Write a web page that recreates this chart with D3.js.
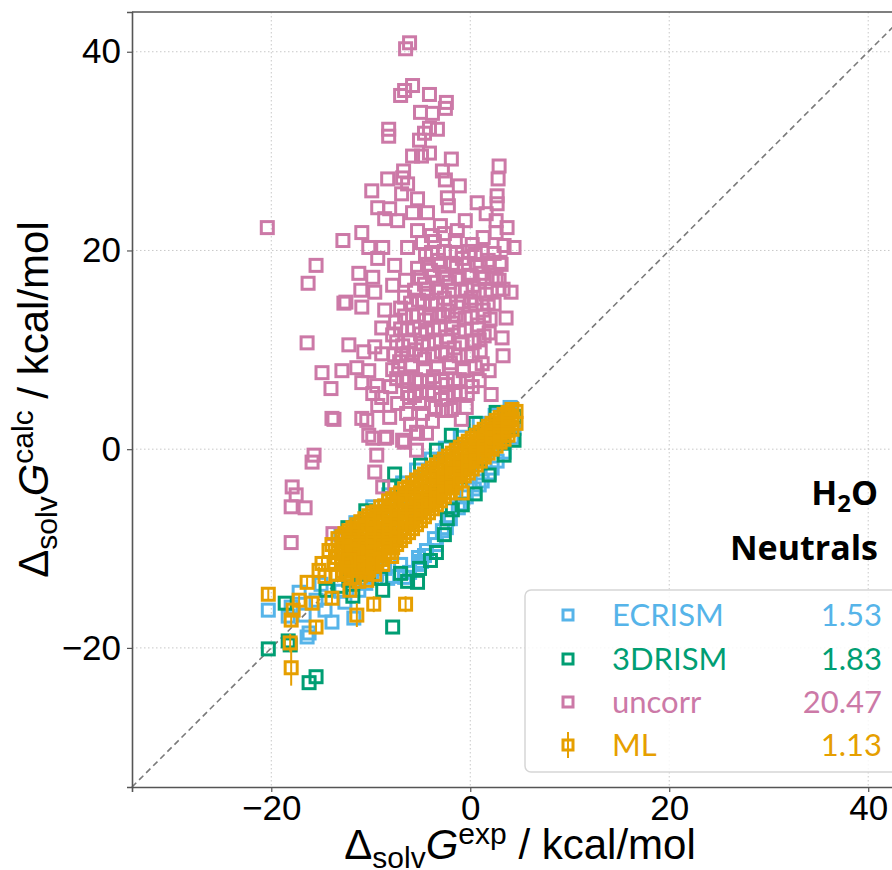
<!DOCTYPE html>
<html>
<head>
<meta charset="utf-8">
<script src="https://cdn.jsdelivr.net/npm/d3@7"></script>
<style>
  html, body { margin: 0; padding: 0; background: #fff; }
  svg { display: block; }
</style>
</head>
<body>
<svg id="chart" width="892" height="870"></svg>
<script>
// Solvation free energies in water (neutral solutes), kcal/mol: [experimental, calculated]
const ecrism = [
  [-20.3,-16.2],[-18.0,-15.9],[-18.3,-16.8],[-16.2,-18.5],[-16.4,-18.9],[-13.9,-17.4],[-15.5,-15.2],
  [-16.7,-16.7],[-12.2,-12.7],[-11.2,-14.2],[-11.7,-17.0],[-10.5,-13.5],[-17.2,-14.4],[-15.0,-13.6],
  [-13.0,-14.3],[-9.4,-12.6],[-8.6,-12.0],[-7.8,-12.8],[-7.0,-11.6],[-6.1,-12.4],[-5.2,-10.9],
  [-4.4,-10.2],[-3.6,-9.0],[-2.8,-8.2],[-2.0,-7.0],[-1.2,-5.9],[-0.4,-4.8],[0.4,-4.0],[1.2,-3.2],
  [1.9,-2.4],[2.7,-1.2],[3.4,-0.3],[4.2,1.2],[4.4,2.1],[-13.0,-8.6],[-11.5,-7.4],[-9.8,-5.8],
  [-8.2,-4.6],[-6.8,-3.4],[-5.4,-2.1],[-3.9,-1.0],[-2.5,0.1],[-1.0,1.2],[0.9,2.6],[2.5,3.4],
  [4.0,4.2],[-12.0,-10.5],[-10.5,-9.2],[-9.0,-8.4],[-7.5,-7.3],[-6.0,-6.0],[-4.5,-5.1],[-3.0,-3.8],
  [-1.5,-2.6],[0.0,-1.4],[1.5,-0.2],[3.0,1.3],[-5.1,-11.6],[-4.6,-10.7],[-3.4,-9.6],
  [-6.6,-12.9],[-4.9,-11.3],[-2.4,-7.9],[-0.9,-5.5],[0.9,-3.6],[2.2,-1.9],[-9.9,-12.9],
  [-8.3,-13.0],[-14.6,-16.2],[-12.6,-15.4]
];
const drism = [
  [-20.3,-20.1],[-18.1,-19.7],[-18.3,-19.3],[-16.2,-23.5],[-15.5,-22.9],[-7.8,-17.9],[-12.2,-13.2],
  [-8.8,-14.2],[-18.6,-15.5],[-14.5,-14.2],[-10.4,-12.6],[-9.0,-13.0],[-7.0,-12.5],[-6.3,-13.3],
  [-5.1,-12.0],[-5.3,-13.4],[-3.4,-10.4],[-2.3,-7.0],[-1.8,-6.1],[-0.8,-5.6],[0.5,-4.5],[1.9,-2.6],
  [3.4,-0.6],[4.4,0.9],[-7.6,-2.5],[-8.1,-3.8],[-3.4,-0.1],[-1.9,1.4],[-5.0,-1.6],[-10.5,-6.2],
  [-12.3,-7.9],[0.5,2.6],[2.6,3.7],[4.5,3.3],[-11.0,-10.0],[-9.0,-9.0],[-7.0,-7.5],[-5.0,-6.0],
  [-3.0,-4.5],[-1.0,-2.8],[1.0,-1.0],[3.0,1.0],[-2.6,-8.6],[-4.0,-11.2],[-11.8,-14.8],[-13.1,-13.8]
];
const uncorr = [
  [-6.1,40.9],[-6.5,40.3],[-5.8,36.6],[-7.0,35.6],[-6.6,36.1],[-4.1,35.7],[-2.4,34.9],[-2.5,34.3],
  [-5.0,33.9],[-3.8,33.8],[-8.2,32.2],[-8.2,31.5],[-4.1,32.3],[-3.3,32.2],[-4.6,31.8],[-5.1,31.1],
  [-5.8,29.5],[-4.1,29.8],[-4.9,29.5],[-1.9,29.2],[2.9,28.5],[-6.7,28.0],[-2.8,28.0],
  [-8.3,27.2],[-6.8,27.3],[-6.3,26.7],[-2.5,27.1],[2.8,27.2],[-9.9,26.0],[-6.9,25.7],[-5.3,25.2],
  [-2.3,25.3],[2.7,25.5],[-9.3,24.3],[-8.1,24.2],[-5.8,23.8],[-4.3,23.8],[-2.2,24.5],[2.7,24.7],
  [1.6,23.7],[-8.6,23.2],[-7.3,23.0],[2.6,23.0],[-20.4,22.3],[-10.9,21.8],[-5.3,22.0],[-3.9,21.5],
  [-2.6,21.7],[-1.3,22.0],[2.6,21.8],[-12.8,21.0],[-10.2,20.3],[-8.8,20.3],[-6.3,20.3],[3.4,20.5],
  [4.4,20.3],[-15.5,18.5],[-16.3,16.7],[-9.3,19.2],[-7.6,18.5],[-11.2,17.7],[-9.8,17.3],[-5.3,18.2],
  [-12.5,14.8],[-11.0,16.0],[-9.6,15.8],[-7.8,16.5],[-6.6,15.3],[4.1,15.8],[2.9,17.0],[1.2,17.7],
  [-12.7,14.7],[-10.9,14.3],[-8.6,14.0],[-8.9,12.2],[-7.8,11.5],[-16.4,10.7],[-12.2,10.5],[-9.6,10.3],
  [-10.7,9.8],[-8.9,9.6],[3.2,11.2],[1.9,11.7],[0.9,11.0],[-14.9,7.7],[-12.9,7.9],[-11.4,8.2],
  [-10.2,7.9],[-14.0,6.1],[-10.9,6.7],[-9.4,6.4],[-9.8,5.6],[-8.9,5.2],[-7.4,7.1],[-6.1,5.2],
  [1.9,7.9],[1.2,8.6],[0.9,6.9],[-0.3,5.6],[-0.4,4.2],[-13.9,3.1],[-10.9,3.1],[-8.1,3.2],[-6.4,3.6],
  [-5.1,4.6],[-2.4,3.9],[-10.2,1.4],[-8.4,1.2],[-6.8,0.9],[-5.4,1.7],[-4.4,1.6],[-9.3,4.4],
  [-13.7,3.0],[-10.4,2.9],[-4.8,3.6],[-2.8,3.9],[-9.8,1.1],[-8.6,1.1],[-6.6,0.7],[-5.3,1.6],
  [-5.4,-0.1],[-15.7,-0.6],[-15.9,-1.3],[-9.4,-0.6],[-9.6,-2.3],[-8.8,-3.8],[-17.9,-3.8],[-17.5,-4.6],
  [-18.0,-5.8],[-16.6,-5.9],[-18.0,-9.4],[-13.8,-8.5],
  [-4.5,19.5],[-3.2,19.0],[-2.0,19.8],[-0.8,19.2],[0.5,19.6],[1.8,19.0],[-4.0,18.0],[-2.7,17.6],
  [-1.4,18.3],[-0.2,17.5],[1.0,18.4],[2.2,17.2],[-4.6,16.6],[-3.4,16.2],[-2.1,16.8],[-0.9,15.9],
  [0.3,16.5],[1.6,15.6],[2.8,16.1],[-5.2,15.0],[-3.9,14.6],[-2.6,15.2],[-1.3,14.3],[0.0,14.9],
  [1.3,14.0],[2.4,14.6],[-5.8,13.4],[-4.5,13.0],[-3.1,13.6],[-1.8,12.7],[-0.5,13.2],[0.8,12.5],
  [2.0,13.1],[-6.3,12.0],[-5.0,11.6],[-3.7,12.2],[-2.4,11.3],[-1.1,11.8],[0.2,10.9],[1.4,11.4],
  [-6.8,10.4],[-5.5,10.0],[-4.2,10.6],[-2.9,9.8],[-1.6,10.2],[-0.3,9.4],[1.0,9.9],[-7.1,8.8],
  [-5.9,8.5],[-4.6,9.1],[-3.3,8.2],[-2.0,8.7],[-0.7,7.9],[0.5,8.3],[-6.4,7.2],[-5.0,6.8],[-3.7,7.3],
  [-2.4,6.5],[-1.1,7.0],[0.2,6.3],[-5.6,5.4],[-4.2,5.8],[-2.9,5.0],[-1.6,5.5],[-3.5,4.2],[-1.9,4.0],
  [-4.8,20.8],[-3.6,20.9],[-1.5,21.0],[0.2,20.6],[1.3,21.3],[-6.5,17.0],[-7.0,14.2],[-7.5,12.8],
  [-6.9,9.5],[-7.8,8.0],[-8.0,6.3],[-7.3,4.6],[-6.0,2.5],[-3.8,2.8],[-0.9,3.0],[2.1,5.5],[3.3,9.4],
  [3.6,13.2],[3.0,18.8],[3.7,22.3],[-0.5,23.0],[-3.0,22.5],[0.7,24.8],[-1.1,26.5],[0.1,15.2],
  [-2.2,13.9],[-4.3,15.7],
  [-3.9,19.8],[-2.6,19.9],[-1.4,19.7],[-0.1,19.9],[1.2,19.8],[2.4,19.7],
  [-4.3,18.6],[-3.0,18.5],[-1.8,18.7],[-0.6,18.6],[0.7,18.5],[1.9,18.7],[3.1,18.6],
  [-5.0,17.3],[-3.7,17.4],[-2.4,17.2],[-1.2,17.3],[0.1,17.4],[1.4,17.3],[2.6,17.2],
  [-5.6,16.0],[-4.3,16.1],[-3.0,15.9],[-1.7,16.0],[-0.4,16.1],[0.9,15.9],[2.1,16.0],[3.3,16.1],
  [-6.0,14.7],[-4.7,14.8],[-3.4,14.6],[-2.1,14.7],[-0.8,14.8],[0.5,14.6],[1.8,14.7],
  [-6.6,13.4],[-5.3,13.5],[-4.0,13.3],[-2.7,13.4],[-1.4,13.5],[0.1,13.3],[1.4,13.4],
  [-7.0,12.1],[-5.7,12.2],[-4.4,12.0],[-3.1,12.1],[-1.8,12.2],[-0.5,12.0],[0.8,12.1],
  [-7.4,10.8],[-6.1,10.9],[-4.8,10.7],[-3.5,10.8],[-2.2,10.9],[-0.9,10.7],[0.4,10.8],
  [-7.6,9.5],[-6.3,9.6],[-5.0,9.4],[-3.7,9.5],[-2.4,9.6],[-1.1,9.4],[0.2,9.5],
  [-7.2,8.2],[-5.9,8.3],[-4.6,8.1],[-3.3,8.2],[-2.0,8.3],[-0.7,8.1],
  [-6.8,6.9],[-5.5,7.0],[-4.2,6.8],[-2.9,6.9],[-1.6,7.0],[-0.3,6.8],
  [-6.3,5.6],[-5.0,5.7],[-3.7,5.5],[-2.4,5.6],[-1.0,5.7]
];
// ML: [experimental, predicted, uncertainty]
const ml = [
  [-13.3,-9.0,0.4],[-13.3,-10.4,0.5],
  [-12.6,-8.5,0.3],[-12.6,-10.0,0.6],[-12.6,-11.3,0.4],
  [-11.8,-7.9,0.5],[-11.8,-9.4,0.3],[-11.8,-10.9,0.6],[-11.8,-12.0,0.4],
  [-11.0,-7.3,0.4],[-11.0,-8.8,0.5],[-11.0,-10.2,0.3],[-11.0,-11.8,0.7],
  [-10.2,-6.7,0.3],[-10.2,-8.0,0.4],[-10.2,-9.5,0.6],[-10.2,-11.0,0.3],[-10.2,-12.1,0.5],
  [-9.4,-6.3,0.5],[-9.4,-7.4,0.3],[-9.4,-8.9,0.4],[-9.4,-10.3,0.5],[-9.4,-11.4,0.3],
  [-8.6,-5.7,0.4],[-8.6,-6.8,0.6],[-8.6,-8.2,0.3],[-8.6,-9.6,0.4],[-8.6,-10.7,0.5],
  [-7.8,-5.0,0.3],[-7.8,-6.2,0.4],[-7.8,-7.6,0.5],[-7.8,-8.9,0.3],[-7.8,-9.9,0.6],
  [-7.0,-4.4,0.5],[-7.0,-5.6,0.3],[-7.0,-6.9,0.4],[-7.0,-8.1,0.5],[-7.0,-9.2,0.3],
  [-6.2,-3.8,0.4],[-6.2,-5.0,0.3],[-6.2,-6.3,0.6],[-6.2,-7.4,0.4],[-6.2,-8.4,0.3],
  [-5.4,-3.1,0.3],[-5.4,-4.3,0.5],[-5.4,-5.6,0.4],[-5.4,-6.8,0.3],[-5.4,-7.6,0.5],
  [-4.6,-2.5,0.4],[-4.6,-3.7,0.3],[-4.6,-5.0,0.5],[-4.6,-6.0,0.4],[-4.6,-6.8,0.3],
  [-3.8,-1.9,0.5],[-3.8,-3.1,0.4],[-3.8,-4.3,0.3],[-3.8,-5.2,0.5],[-3.8,-6.0,0.4],
  [-3.0,-1.3,0.3],[-3.0,-2.5,0.4],[-3.0,-3.6,0.5],[-3.0,-4.6,0.3],[-3.0,-5.2,0.4],
  [-2.2,-0.7,0.4],[-2.2,-1.9,0.3],[-2.2,-3.0,0.4],[-2.2,-3.8,0.5],[-2.2,-4.4,0.3],
  [-1.4,-0.1,0.3],[-1.4,-1.3,0.5],[-1.4,-2.3,0.4],[-1.4,-3.4,0.3],
  [-0.6,0.5,0.4],[-0.6,-0.6,0.3],[-0.6,-1.7,0.5],[-0.6,-2.7,0.4],
  [0.2,1.1,0.3],[0.2,0.0,0.4],[0.2,-1.0,0.3],[0.2,-2.0,0.5],
  [1.0,1.7,0.4],[1.0,0.6,0.3],[1.0,-0.4,0.4],[1.0,-1.2,0.3],
  [1.8,2.3,0.3],[1.8,1.2,0.4],[1.8,0.2,0.3],[1.8,-0.4,0.5],
  [2.6,2.9,0.4],[2.6,1.9,0.3],[2.6,0.8,0.4],[2.6,0.3,0.3],
  [3.4,3.5,0.3],[3.4,2.5,0.4],[3.4,1.4,0.3],[3.4,1.0,0.4],
  [4.2,4.0,0.4],[4.2,3.0,0.3],[4.2,2.0,0.4],[4.6,3.8,0.3],[4.6,2.6,0.4],
  [-12.9,-8.8,0.4],[-12.9,-9.6,0.3],[-12.9,-10.5,0.5],[-12.9,-11.4,0.4],
  [-12.2,-8.2,0.3],[-12.2,-9.1,0.4],[-12.2,-10.0,0.5],[-12.2,-10.8,0.3],[-12.2,-11.7,0.4],
  [-11.4,-7.6,0.4],[-11.4,-8.5,0.3],[-11.4,-9.4,0.5],[-11.4,-10.3,0.4],[-11.4,-11.2,0.3],[-11.4,-12.2,0.5],
  [-10.6,-7.0,0.3],[-10.6,-7.9,0.4],[-10.6,-8.8,0.3],[-10.6,-9.7,0.5],[-10.6,-10.6,0.4],[-10.6,-11.5,0.3],[-10.6,-12.4,0.4],
  [-9.8,-6.4,0.4],[-9.8,-7.3,0.3],[-9.8,-8.2,0.5],[-9.8,-9.1,0.4],[-9.8,-10.0,0.3],[-9.8,-10.9,0.4],[-9.8,-11.8,0.5],
  [-9.0,-5.8,0.3],[-9.0,-6.7,0.4],[-9.0,-7.6,0.3],[-9.0,-8.5,0.5],[-9.0,-9.4,0.4],[-9.0,-10.3,0.3],[-9.0,-11.1,0.4],
  [-8.2,-5.2,0.4],[-8.2,-6.1,0.3],[-8.2,-7.0,0.4],[-8.2,-7.9,0.5],[-8.2,-8.8,0.3],[-8.2,-9.7,0.4],[-8.2,-10.4,0.3],
  [-7.4,-4.6,0.3],[-7.4,-5.5,0.5],[-7.4,-6.4,0.4],[-7.4,-7.3,0.3],[-7.4,-8.2,0.4],[-7.4,-9.0,0.3],[-7.4,-9.6,0.5],
  [-6.6,-4.0,0.4],[-6.6,-4.9,0.3],[-6.6,-5.8,0.4],[-6.6,-6.7,0.5],[-6.6,-7.6,0.3],[-6.6,-8.8,0.4],
  [-5.8,-3.4,0.3],[-5.8,-4.3,0.4],[-5.8,-5.2,0.3],[-5.8,-6.1,0.5],[-5.8,-7.0,0.4],[-5.8,-8.0,0.3],
  [-5.0,-2.8,0.4],[-5.0,-3.7,0.3],[-5.0,-4.6,0.4],[-5.0,-5.5,0.3],[-5.0,-6.4,0.5],[-5.0,-7.2,0.4],
  [-4.2,-2.2,0.3],[-4.2,-3.1,0.4],[-4.2,-4.0,0.3],[-4.2,-4.9,0.4],[-4.2,-5.7,0.5],[-4.2,-6.4,0.3],
  [-3.4,-1.6,0.4],[-3.4,-2.5,0.3],[-3.4,-3.4,0.4],[-3.4,-4.3,0.3],[-3.4,-5.0,0.4],[-3.4,-5.6,0.5],
  [-2.6,-1.0,0.3],[-2.6,-1.9,0.4],[-2.6,-2.8,0.3],[-2.6,-3.7,0.4],[-2.6,-4.3,0.3],[-2.6,-4.8,0.4],
  [-1.8,-0.4,0.4],[-1.8,-1.3,0.3],[-1.8,-2.2,0.4],[-1.8,-3.1,0.3],[-1.8,-3.9,0.5],
  [-1.0,0.2,0.3],[-1.0,-0.7,0.4],[-1.0,-1.6,0.3],[-1.0,-2.5,0.4],[-1.0,-3.2,0.3],
  [-0.2,0.8,0.4],[-0.2,-0.1,0.3],[-0.2,-1.0,0.4],[-0.2,-1.8,0.3],[-0.2,-2.4,0.4],
  [0.6,1.4,0.3],[0.6,0.5,0.4],[0.6,-0.4,0.3],[0.6,-1.2,0.4],[0.6,-1.6,0.3],
  [1.4,2.0,0.4],[1.4,1.1,0.3],[1.4,0.2,0.4],[1.4,-0.5,0.3],[1.4,-0.8,0.4],
  [2.2,2.6,0.3],[2.2,1.7,0.4],[2.2,0.8,0.3],[2.2,0.0,0.4],
  [3.0,3.2,0.4],[3.0,2.3,0.3],[3.0,1.4,0.4],[3.0,0.7,0.3],
  [3.8,3.7,0.3],[3.8,2.8,0.4],[3.8,1.9,0.3],[3.8,1.4,0.4],
  [-12.8,-12.3,0.4],[-12.0,-12.9,0.5],[-11.2,-13.3,0.4],[-10.4,-13.2,0.3],[-9.6,-12.6,0.4],
  [-13.6,-11.6,0.5],[-13.4,-10.9,0.3],[-12.5,-12.6,0.4],[-8.8,-11.6,0.3],[-7.9,-10.8,0.4],
  [-20.3,-14.6,0.6],[-18.0,-22.0,1.8],[-18.1,-19.5,0.9],[-18.0,-17.2,0.5],[-17.8,-16.2,0.6],
  [-16.4,-13.4,0.5],[-14.9,-11.5,0.6],[-15.5,-17.9,0.7],[-17.2,-15.2,0.5],[-15.9,-15.5,0.6],
  [-13.9,-15.0,0.5],[-15.2,-12.2,0.4],[-9.7,-15.6,0.8],[-11.4,-16.7,1.2],[-12.1,-14.2,0.6],
  [-11.3,-11.9,0.5],[-12.2,-11.2,0.5],[-6.5,-15.6,0.8],[-0.8,-4.4,0.4],[-14.2,-10.2,0.5],
  [-13.5,-12.6,0.5],[-13.9,-9.6,0.4],[-14.6,-12.8,0.5]
];

const seriesNames = ["ECRISM", "3DRISM", "uncorr", "ML"];
const seriesColors = ["#56B4E9", "#009E73", "#CC79A7", "#E69F00"];
const rmseValues = ["1.53", "1.83", "20.47", "1.13"];
const tickValues = [-20, 0, 20, 40];
const axisDomain = [-34, 44];

const svg = d3.select("#chart");
const margin = { left: 132, top: 12, right: 908, bottom: 787 };

const x = d3.scaleLinear().domain(axisDomain).range([margin.left, margin.right]);
const y = d3.scaleLinear().domain(axisDomain).range([margin.bottom, margin.top]);

svg.append("defs").append("clipPath").attr("id", "plotclip")
  .append("rect").attr("x", margin.left).attr("y", margin.top)
  .attr("width", margin.right - margin.left).attr("height", margin.bottom - margin.top);

// grid
const grid = svg.append("g");
tickValues.forEach(t => {
  grid.append("line").attr("x1", x(t)).attr("x2", x(t)).attr("y1", margin.top).attr("y2", margin.bottom)
    .attr("stroke", "#c8c8c8").attr("stroke-width", 1).attr("stroke-dasharray", "1.5,2.5");
  grid.append("line").attr("y1", y(t)).attr("y2", y(t)).attr("x1", margin.left).attr("x2", margin.right)
    .attr("stroke", "#c8c8c8").attr("stroke-width", 1).attr("stroke-dasharray", "1.5,2.5");
});

// y = x reference line
svg.append("line")
  .attr("x1", x(axisDomain[0])).attr("y1", y(axisDomain[0]))
  .attr("x2", x(axisDomain[1])).attr("y2", y(axisDomain[1]))
  .attr("stroke", "#7a7a7a").attr("stroke-width", 1.6).attr("stroke-dasharray", "6,4");

const plot = svg.append("g").attr("clip-path", "url(#plotclip)");
const side = 12;

function drawSquares(data, color) {
  plot.append("g").selectAll("rect").data(data).join("rect")
    .attr("x", d => x(d[0]) - side / 2).attr("y", d => y(d[1]) - side / 2)
    .attr("width", side).attr("height", side)
    .attr("fill", "none").attr("stroke", color).attr("stroke-width", 3);
}
drawSquares(ecrism, seriesColors[0]);
drawSquares(drism, seriesColors[1]);
drawSquares(uncorr, seriesColors[2]);

const mlg = plot.append("g");
mlg.selectAll("line").data(ml).join("line")
  .attr("x1", d => x(d[0])).attr("x2", d => x(d[0]))
  .attr("y1", d => y(d[1] - d[2])).attr("y2", d => y(d[1] + d[2]))
  .attr("stroke", seriesColors[3]).attr("stroke-width", 2);
mlg.selectAll("rect").data(ml).join("rect")
  .attr("x", d => x(d[0]) - side / 2).attr("y", d => y(d[1]) - side / 2)
  .attr("width", side).attr("height", side)
  .attr("fill", "none").attr("stroke", seriesColors[3]).attr("stroke-width", 3);

// axes
const tickFont = "'Liberation Sans', Arial, sans-serif";
const fmt = d => d < 0 ? "\u2212" + Math.abs(d) : d;
const xAxis = svg.append("g").attr("transform", `translate(0,${margin.bottom})`)
  .call(d3.axisBottom(x).tickValues(tickValues).tickSize(5).tickPadding(3).tickFormat(fmt));
const yAxis = svg.append("g").attr("transform", `translate(${margin.left},0)`)
  .call(d3.axisLeft(y).tickValues(tickValues).tickSize(5).tickPadding(6).tickFormat(fmt));
[xAxis, yAxis].forEach(a => {
  a.select(".domain").attr("stroke", "#555").attr("stroke-width", 1.6);
  a.selectAll(".tick line").attr("stroke", "#555").attr("stroke-width", 1.2);
  a.selectAll(".tick text").attr("font-family", tickFont).attr("font-size", 35).attr("fill", "#000");
});
// top and right spines
svg.append("line").attr("x1", margin.left).attr("x2", margin.right).attr("y1", margin.top).attr("y2", margin.top)
  .attr("stroke", "#555").attr("stroke-width", 1.6);
svg.append("line").attr("x1", margin.right).attr("x2", margin.right).attr("y1", margin.top).attr("y2", margin.bottom)
  .attr("stroke", "#555").attr("stroke-width", 1.6);

// axis titles
function axisTitle(g, sup) {
  const t = g.append("text").attr("font-family", tickFont).attr("font-size", 42).attr("fill", "#000");
  t.append("tspan").text("\u0394");
  t.append("tspan").attr("font-size", 30).attr("dy", 9).text("solv");
  t.append("tspan").attr("font-style", "italic").attr("dy", -9).text("G");
  t.append("tspan").attr("font-size", 30).attr("dy", -15).text(sup);
  t.append("tspan").attr("dy", 15).text(" / kcal/mol");
  return t;
}
const xt = axisTitle(svg.append("g").attr("transform", `translate(${(margin.left + margin.right) / 2},859)`), "exp");
xt.attr("text-anchor", "middle");
const yt = axisTitle(svg.append("g").attr("transform", `translate(48,${(margin.top + margin.bottom) / 2}) rotate(-90)`), "calc");
yt.attr("text-anchor", "middle");

// annotation
const labelFont = "Lato, 'Open Sans', sans-serif";
const ann = svg.append("g").attr("font-family", "'Open Sans', Lato, sans-serif").attr("font-weight", "bold")
  .attr("font-size", 34).attr("text-anchor", "end").attr("fill", "#000");
const h2o = ann.append("text").attr("x", 878).attr("y", 505);
h2o.append("tspan").text("H");
h2o.append("tspan").attr("font-size", 24).attr("dy", 7).text("2");
h2o.append("tspan").attr("dy", -7).text("O");
ann.append("text").attr("x", 878).attr("y", 560).text("Neutrals");

// legend
const lg = svg.append("g");
lg.append("rect").attr("x", 525).attr("y", 590).attr("width", 380).attr("height", 182).attr("rx", 6)
  .attr("fill", "#fff").attr("fill-opacity", 0.85).attr("stroke", "#d6d6d6").attr("stroke-width", 1.5);
const rowY = [615, 659, 702, 745];
seriesNames.forEach((name, i) => {
  const cy = rowY[i];
  if (i === 3) {
    lg.append("line").attr("x1", 568).attr("x2", 568).attr("y1", cy - 13).attr("y2", cy + 13)
      .attr("stroke", seriesColors[i]).attr("stroke-width", 2);
  }
  lg.append("rect").attr("x", 568 - 5).attr("y", cy - 5).attr("width", 10).attr("height", 10)
    .attr("fill", "none").attr("stroke", seriesColors[i]).attr("stroke-width", 3);
  lg.append("text").attr("x", 612).attr("y", cy + 11).attr("font-family", labelFont).attr("font-size", 31)
    .attr("fill", seriesColors[i]).text(name);
  lg.append("text").attr("x", 882).attr("y", cy + 11).attr("font-family", labelFont).attr("font-size", 31)
    .attr("text-anchor", "end").attr("fill", seriesColors[i]).text(rmseValues[i]);
});
</script>
</body>
</html>
